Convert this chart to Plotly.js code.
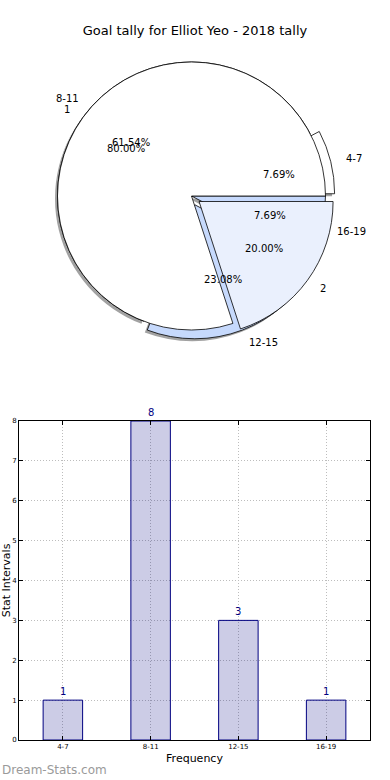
<!DOCTYPE html>
<html>
<head>
<meta charset="utf-8">
<script src="https://cdn.plot.ly/plotly-3.0.1.min.js"></script>
<style>
  html, body { margin: 0; padding: 0; background: #ffffff; }
  #chart { width: 390px; height: 780px; }
</style>
</head>
<body>
<div id="chart"></div>
<script>
// ---------------- DATA ----------------
const chartTitle = 'Goal tally for Elliot Yeo - 2018 tally';
const intervalLabels = ['4-7', '8-11', '12-15', '16-19'];
const intervalCounts = [1, 8, 3, 1];
const groupLabels = ['1', '2'];
const groupValues = [4, 1];
const barValueLabels = ['1', '8', '3', '1'];
const xTitle = 'Frequency';
const yTitle = 'Stat Intervals';
const watermark = 'Dream-Stats.com';

// ---------------- STYLE / GEOMETRY ----------------
const W = 390, H = 780;
const M = { l: 19, r: 20, t: 0, b: 40 };
const PW = W - M.l - M.r, PH = H - M.t - M.b;
const px2x = px => (px - M.l) / PW;
const py2y = py => (M.t + PH - py) / PH;

const CX = 191.5, CY = 196, R = 134, EXPLODE = 0.07;
const HALF = R * (1 + EXPLODE);
const intervalPull = [EXPLODE, 0, EXPLODE, 0];
const groupPull = [0, EXPLODE];
const intervalColors = ['#ffffff', '#ffffff', '#c6d9fc', '#c6d9fc'];
const groupColors = ['#ffffff', '#eaf0fd'];
const FONT = 'DejaVu Sans, Liberation Sans, sans-serif';

function pieDomain(dx, dy) {
  return {
    x: [px2x(CX - HALF + dx), px2x(CX + HALF + dx)],
    y: [py2y(CY + HALF + dy), py2y(CY - HALF + dy)]
  };
}

// first slice starts at 3 o'clock and slices run counterclockwise
function startRotation(values) {
  const total = values.reduce((a, b) => a + b, 0);
  return 90 - 360 * values[0] / total;
}

function pieTrace(labels, values, colors, pulls, dom, line) {
  return {
    type: 'pie', labels: labels, values: values, sort: false,
    direction: 'counterclockwise', rotation: startRotation(values), pull: pulls,
    domain: dom, marker: { colors: colors, line: line },
    textinfo: 'none', hoverinfo: 'none', showlegend: false
  };
}

function pieAnnotations(labels, values, pulls) {
  const total = values.reduce((a, b) => a + b, 0);
  let cum = 0;
  const out = [];
  values.forEach((v, i) => {
    const mid = (cum + v / 2) / total * 2 * Math.PI;
    cum += v;
    const c = Math.cos(mid), s = Math.sin(mid), e = pulls[i];
    const lx = CX + R * (1.1 + e) * c, ly = CY - R * (1.1 + e) * s;
    out.push({
      x: px2x(lx), y: py2y(ly), xref: 'paper', yref: 'paper',
      text: labels[i], showarrow: false,
      xanchor: c > 0 ? 'left' : 'right', yanchor: 'middle',
      font: { family: FONT, size: 10, color: '#000' }
    });
    const tx = CX + R * (0.6 + e) * c, ty = CY - R * (0.6 + e) * s;
    out.push({
      x: px2x(tx), y: py2y(ty), xref: 'paper', yref: 'paper',
      text: (100 * v / total).toFixed(2) + '%', showarrow: false,
      xanchor: 'center', yanchor: 'middle',
      font: { family: FONT, size: 10, color: '#000' }
    });
  });
  return out;
}

const shadowColors = intervalCounts.map(() => 'rgba(70,70,70,0.5)');

const traces = [
  pieTrace(intervalLabels, intervalCounts, shadowColors, intervalPull,
           pieDomain(-2.5, 2.5), { color: 'rgba(0,0,0,0)', width: 0 }),
  pieTrace(intervalLabels, intervalCounts, intervalColors, intervalPull,
           pieDomain(0, 0), { color: '#000', width: 0.8 }),
  pieTrace(groupLabels, groupValues, groupColors, groupPull,
           pieDomain(0, 0), { color: '#000', width: 0.8 }),
  {
    type: 'bar', x: intervalLabels, y: intervalCounts, width: 0.45,
    xaxis: 'x', yaxis: 'y', hoverinfo: 'none', showlegend: false,
    marker: { color: 'rgba(0,0,128,0.2)', line: { color: '#000080', width: 1 } }
  }
];

const barAnnotations = intervalLabels.map((lab, i) => ({
  x: lab, y: intervalCounts[i], xref: 'x', yref: 'y',
  text: barValueLabels[i], showarrow: false, yanchor: 'bottom', yshift: 1,
  font: { family: FONT, size: 10, color: '#000080' }
}));

const annotations = []
  .concat(pieAnnotations(intervalLabels, intervalCounts, intervalPull))
  .concat(pieAnnotations(groupLabels, groupValues, groupPull))
  .concat(barAnnotations)
  .concat([{
    x: px2x(0), y: py2y(770), xref: 'paper', yref: 'paper',
    text: watermark, showarrow: false, xanchor: 'left', yanchor: 'middle',
    font: { family: FONT, size: 12, color: '#9a9a9a' }
  }]);

const axisCommon = {
  showline: true, mirror: 'ticks', linecolor: '#000', linewidth: 1,
  ticks: 'inside', ticklen: 4, tickcolor: '#000', tickwidth: 1,
  showgrid: true, gridcolor: '#bdbdbd', griddash: '1px,2px', gridwidth: 1,
  zeroline: false, fixedrange: true,
  tickfont: { family: FONT, size: 7, color: '#000' }
};

const layout = {
  width: W, height: H, margin: M,
  paper_bgcolor: '#fff', plot_bgcolor: 'rgba(0,0,0,0)',
  showlegend: false,
  font: { family: FONT, color: '#000' },
  title: {
    text: chartTitle, x: 0.5, xref: 'container', xanchor: 'center',
    y: 1 - 30 / H, yref: 'container', yanchor: 'middle',
    font: { family: FONT, size: 13, color: '#000' }
  },
  xaxis: Object.assign({}, axisCommon, {
    type: 'category', categoryorder: 'array', categoryarray: intervalLabels,
    range: [-0.5, 3.5], domain: [0, 1], anchor: 'y',
    title: { text: xTitle, standoff: 3, font: { family: FONT, size: 11, color: '#000' } }
  }),
  yaxis: Object.assign({}, axisCommon, {
    range: [0, 8], dtick: 1, domain: [0, py2y(421)], anchor: 'x',
    title: { text: yTitle, standoff: 2, font: { family: FONT, size: 11, color: '#000' } }
  }),
  annotations: annotations
};

Plotly.newPlot('chart', traces, layout, { displayModeBar: false, staticPlot: true });
</script>
</body>
</html>
